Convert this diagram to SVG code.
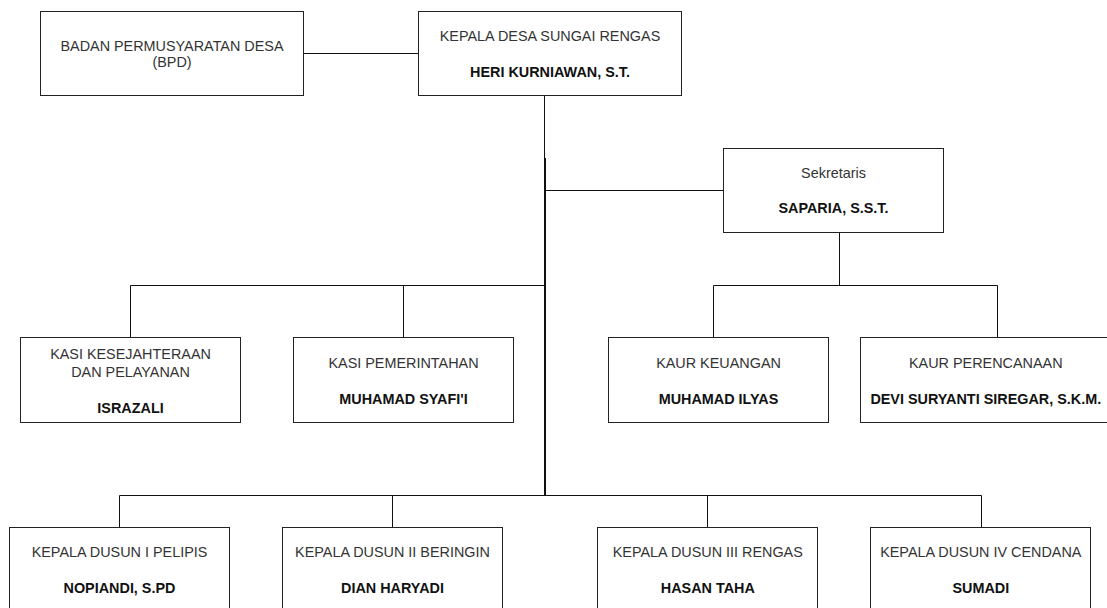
<svg xmlns="http://www.w3.org/2000/svg" width="1107" height="608" viewBox="0 0 1107 608">
<style>
.box{fill:#fff;stroke:#222;stroke-width:1}
.ln{fill:none;stroke:#111;stroke-width:1}
text{font-family:"Liberation Sans",Arial,Helvetica,sans-serif;font-size:14.4px;text-anchor:middle}
.t{fill:#333}
.b{fill:#111;font-weight:bold}
</style>
<rect width="1107" height="608" fill="#fff"/>
<g id="connectors">
<path class="ln" d="M303.5 53.5H418.5"/>
<path class="ln" d="M544.5 95.5V495.5"/>
<path class="ln" d="M545.5 158V495.5"/>
<path class="ln" d="M544.5 190.5H723.5"/>
<path class="ln" d="M130.5 337.5V285.5H544.5"/>
<path class="ln" d="M403.5 337.5V285.5"/>
<path class="ln" d="M839.5 232.5V285.5"/>
<path class="ln" d="M713.5 337.5V285.5H997.5V337.5"/>
<path class="ln" d="M119.5 527.5V495.5H981.5V527.5"/>
<path class="ln" d="M392.5 495.5V527.5"/>
<path class="ln" d="M707.5 495.5V527.5"/>
</g>
<g id="bpd">
<rect class="box" x="40.5" y="11.5" width="263" height="84"/>
<text class="t" x="172" y="50.5">BADAN PERMUSYARATAN DESA</text>
<text class="t" x="172" y="67">(BPD)</text>
</g>
<g id="kepala-desa">
<rect class="box" x="418.5" y="11.5" width="263" height="84"/>
<text class="t" x="550" y="40.5">KEPALA DESA SUNGAI RENGAS</text>
<text class="b" x="550" y="76.5">HERI KURNIAWAN, S.T.</text>
</g>
<g id="sekretaris">
<rect class="box" x="723.5" y="148.5" width="220" height="84"/>
<text class="t" x="833.5" y="178">Sekretaris</text>
<text class="b" x="833.5" y="213.3">SAPARIA, S.S.T.</text>
</g>
<g id="kasi-kesejahteraan">
<rect class="box" x="20.5" y="337.5" width="220" height="85"/>
<text class="t" x="130.5" y="359.3">KASI KESEJAHTERAAN</text>
<text class="t" x="130.5" y="377">DAN PELAYANAN</text>
<text class="b" x="130.5" y="412.7">ISRAZALI</text>
</g>
<g id="kasi-pemerintahan">
<rect class="box" x="293.5" y="337.5" width="220" height="85"/>
<text class="t" x="403.5" y="367.5">KASI PEMERINTAHAN</text>
<text class="b" x="403.5" y="403.5">MUHAMAD SYAFI'I</text>
</g>
<g id="kaur-keuangan">
<rect class="box" x="608.5" y="337.5" width="220" height="85"/>
<text class="t" x="718.5" y="367.5">KAUR KEUANGAN</text>
<text class="b" x="718.5" y="403.5">MUHAMAD ILYAS</text>
</g>
<g id="kaur-perencanaan">
<rect class="box" x="860.5" y="337.5" width="251" height="85"/>
<text class="t" x="985.8" y="367.5">KAUR PERENCANAAN</text>
<text class="b" x="985.8" y="403.5">DEVI SURYANTI SIREGAR, S.K.M.</text>
</g>
<g id="dusun-1">
<rect class="box" x="9.5" y="527.5" width="220" height="85"/>
<text class="t" x="119.5" y="556.7">KEPALA DUSUN I PELIPIS</text>
<text class="b" x="119.5" y="592.7">NOPIANDI, S.PD</text>
</g>
<g id="dusun-2">
<rect class="box" x="282.5" y="527.5" width="220" height="85"/>
<text class="t" x="392.5" y="556.7">KEPALA DUSUN II BERINGIN</text>
<text class="b" x="392.5" y="592.7">DIAN HARYADI</text>
</g>
<g id="dusun-3">
<rect class="box" x="597.5" y="527.5" width="220" height="85"/>
<text class="t" x="707.8" y="556.7">KEPALA DUSUN III RENGAS</text>
<text class="b" x="707.8" y="592.7">HASAN TAHA</text>
</g>
<g id="dusun-4">
<rect class="box" x="870.5" y="527.5" width="220" height="85"/>
<text class="t" x="980.8" y="556.7">KEPALA DUSUN IV CENDANA</text>
<text class="b" x="980.8" y="592.7">SUMADI</text>
</g>
</svg>
